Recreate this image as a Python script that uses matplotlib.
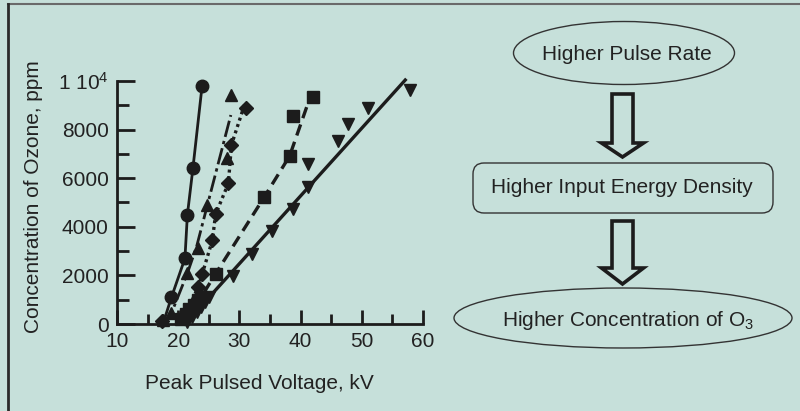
import matplotlib
matplotlib.use('Agg')
import matplotlib.pyplot as plt
from matplotlib.patches import Ellipse, FancyBboxPatch, Polygon
from matplotlib.ticker import MultipleLocator, FixedLocator, FixedFormatter

plt.rcParams['font.family'] = ['Liberation Sans', 'DejaVu Sans']
plt.rcParams['mathtext.fontset'] = 'custom'
plt.rcParams['mathtext.rm'] = 'Liberation Sans'
plt.rcParams['mathtext.it'] = 'Liberation Sans'

# Data (kV, ppm)
circle_x = [18.9, 21.1, 21.5, 22.4, 23.9]
circle_y = [1100, 2700, 4490, 6400, 9790]
circle_line_x = [17.5, 18.9, 21.1, 21.5, 22.4, 23.9]
circle_line_y = [0, 1100, 2700, 4490, 6400, 9790]

tri_x = [17.5, 18.9, 21.5, 23.3, 24.7, 27.9, 28.6]
tri_y = [150, 450, 2090, 3110, 4900, 6820, 9420]
tri_line_x = [17.5, 18.9, 21.5, 23.0, 28.6]
tri_line_y = [0, 450, 2090, 3180, 8600]

dia_x = [17.4, 23.3, 23.9, 25.6, 26.1, 28.2, 28.7, 31.1]
dia_y = [120, 1540, 2040, 3460, 4510, 5790, 7370, 8870]
dia_line_x = [20.5, 23.3, 23.9, 25.6, 26.1, 28.2, 28.7, 31.0]
dia_line_y = [0, 1540, 2040, 3460, 4510, 5790, 7370, 9150]

sq_x = [20.5, 21.2, 21.8, 22.5, 23.2, 23.8, 26.1, 34.1, 38.2, 38.7, 42.0]
sq_y = [200, 400, 600, 800, 1000, 1100, 2060, 5240, 6910, 8560, 9330]
sq_line_x = [21.0, 26.1, 34.1, 38.2, 41.3]
sq_line_y = [0, 2060, 5240, 6910, 9150]

inv_x = [21.5, 22.2, 23.0, 23.7, 24.4, 25.0, 29.0, 32.1, 35.3, 38.8, 41.2, 41.2,
         46.1, 47.8, 51.0, 57.9]
inv_y = [100, 300, 500, 700, 900, 1100, 1980, 2880, 3840, 4720, 5630, 6570,
         7540, 8230, 8900, 9630]
fit_x = [21.1, 57.1]
fit_y = [0, 10040]

ytick_vals = [0, 2000, 4000, 6000, 8000, 10000]
ytick_labels = ['0', '2000', '4000', '6000', '8000', '1 10$^4$']

bg = '#c6e0da'
ink = '#1c1c1c'
txt = '#222222'

fig = plt.figure(figsize=(8, 4.11), dpi=100, facecolor=bg)

# diagram / frame layer in pixel coordinates
ov = fig.add_axes([0, 0, 1, 1])
ov.set_xlim(0, 800)
ov.set_ylim(411, 0)
ov.axis('off')
ov.plot([8, 800], [4.5, 4.5], color='#6a6a6a', lw=1.5)
ov.plot([8, 8], [4.5, 411], color='#2a2a2a', lw=2)

ov.add_patch(Ellipse((624, 53), 221, 63, fill=False, ec='#333333', lw=1))
ov.add_patch(FancyBboxPatch((473, 163), 300, 50, boxstyle='round,pad=0,rounding_size=11',
                            fill=False, ec='#333333', lw=1))
ov.add_patch(Ellipse((623, 318), 338, 60, fill=False, ec='#333333', lw=1))

def hollow_arrow(y0, yh, y1, xc=622.5):
    pts = [(xc - 10.5, y0), (xc + 10.5, y0), (xc + 10.5, yh), (xc + 21, yh),
           (xc, y1), (xc - 21, yh), (xc - 10.5, yh)]
    ov.add_patch(Polygon(pts, closed=True, fill=False, ec=ink, lw=2.6, joinstyle='miter'))

hollow_arrow(94, 143, 157)
hollow_arrow(221, 268, 284)

ov.text(627, 55, 'Higher Pulse Rate', ha='center', va='center', fontsize=15, color=txt)
ov.text(622, 187, 'Higher Input Energy Density', ha='center', va='center', fontsize=15, color=txt)
ov.text(628, 320, 'Higher Concentration of O$_3$', ha='center', va='center', fontsize=15, color=txt)

# chart
ax = fig.add_axes([117 / 800, 87 / 411, 306 / 800, 243 / 411])
ax.set_facecolor('none')
ax.set_xlim(10, 60)
ax.set_ylim(0, 10000)

ms = 9
ax.plot(circle_line_x, circle_line_y, color=ink, lw=2, clip_on=False)
ax.plot(circle_x, circle_y, 'o', color=ink, ms=ms, clip_on=False)
ax.plot(tri_line_x, tri_line_y, color=ink, lw=2, dashes=(6, 1.5, 1.2, 1.5), clip_on=False)
ax.plot(tri_x, tri_y, '^', color=ink, ms=ms, clip_on=False)
ax.plot(dia_line_x, dia_line_y, color=ink, lw=2.4, dashes=(0.9, 1.1), clip_on=False)
ax.plot(dia_x, dia_y, 'D', color=ink, ms=7, clip_on=False)
ax.plot(sq_line_x, sq_line_y, color=ink, lw=2.4, dashes=(3.5, 2), clip_on=False)
ax.plot(sq_x, sq_y, 's', color=ink, ms=8.5, clip_on=False)
ax.plot(fit_x, fit_y, color=ink, lw=2.4, clip_on=False)
ax.plot(inv_x, inv_y, 'v', color=ink, ms=ms, clip_on=False)

for s in ['top', 'right']:
    ax.spines[s].set_visible(False)
for s in ['left', 'bottom']:
    ax.spines[s].set_linewidth(2)
    ax.spines[s].set_color(ink)

ax.xaxis.set_major_locator(MultipleLocator(10))
ax.xaxis.set_minor_locator(MultipleLocator(5))
ax.yaxis.set_major_locator(FixedLocator(ytick_vals))
ax.yaxis.set_major_formatter(FixedFormatter(ytick_labels))
ax.yaxis.set_minor_locator(MultipleLocator(1000))

ax.tick_params(axis='x', which='major', direction='in', length=10, width=2, pad=6,
               labelsize=15, colors=ink, labelcolor=txt)
ax.tick_params(axis='x', which='minor', direction='in', length=7, width=2, colors=ink)
ax.tick_params(axis='y', which='major', direction='in', length=13, width=2, pad=6,
               labelsize=15, colors=ink, labelcolor=txt)
ax.tick_params(axis='y', which='minor', direction='in', length=8.5, width=2, colors=ink)

ax.set_xlabel('Peak Pulsed Voltage, kV', fontsize=15, color=txt)
ax.xaxis.set_label_coords(0.464, -0.243)
ax.xaxis.label.set_va('center')
ax.set_ylabel('Concentration of Ozone, ppm', fontsize=15, color=txt)
ax.yaxis.set_label_coords(-0.2745, 0.523)
ax.yaxis.label.set_va('center')

fig.savefig('out.png', dpi=100, facecolor=bg)
